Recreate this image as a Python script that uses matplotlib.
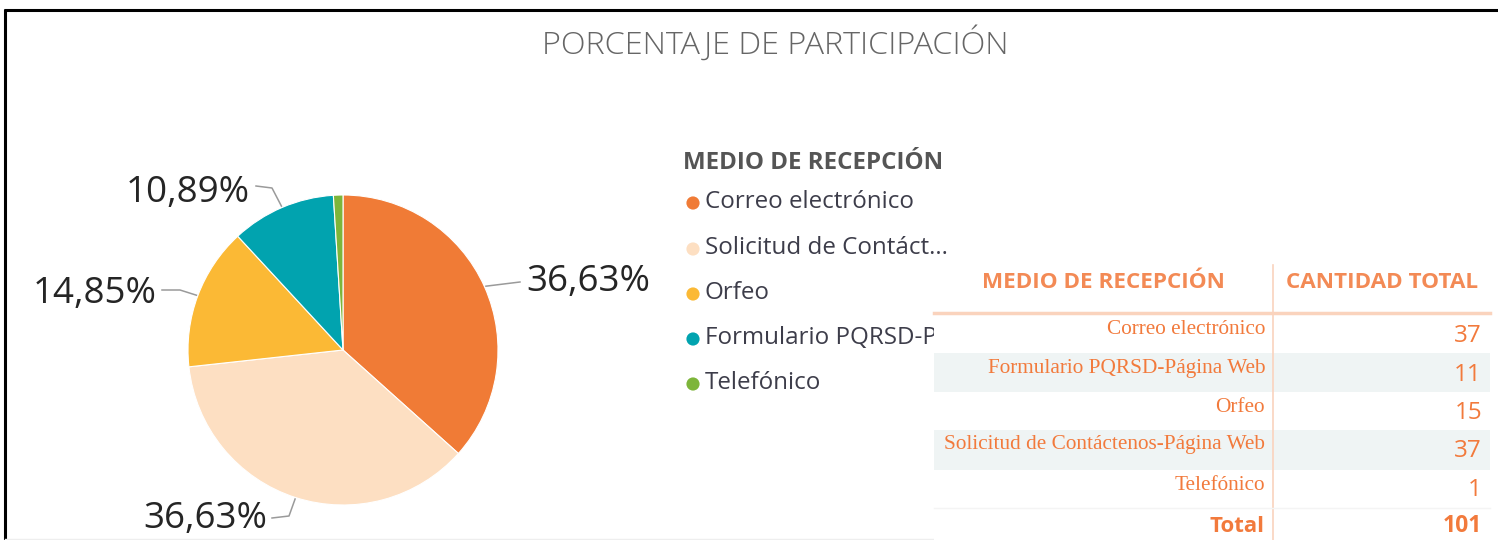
import numpy as np
import matplotlib
matplotlib.use("Agg")
import matplotlib.pyplot as plt
from matplotlib.patches import Rectangle

# ---- data ----
pie_categories = ["Correo electrónico", "Solicitud de Contáctenos-Página Web", "Orfeo",
                  "Formulario PQRSD-Página Web", "Telefónico"]
pie_values = [37, 37, 15, 11, 1]
legend_labels = ["Correo electrónico", "Solicitud de Contáct...", "Orfeo",
                 "Formulario PQRSD-Página Web", "Telefónico"]
table_categories = ["Correo electrónico", "Formulario PQRSD-Página Web", "Orfeo",
                    "Solicitud de Contáctenos-Página Web", "Telefónico"]
table_values = [37, 11, 15, 37, 1]
total_value = 101

colors = ["#F07B36", "#FDDFC2", "#FBB935", "#01A3AF", "#7DB53A"]
orange_txt = "#F27A3C"

W, H = 1498, 540
fig = plt.figure(figsize=(W / 100, H / 100), dpi=100)
fig.patch.set_facecolor("white")

# pie geometry (pixels)
cx, cy, R = 343, 350, 155
ax_pie = fig.add_axes([(cx - R) / W, (H - cy - R) / H, 2 * R / W, 2 * R / H])
wedges, _ = ax_pie.pie(pie_values, colors=colors, startangle=90, counterclock=False,
                       wedgeprops=dict(linewidth=0.8, edgecolor="white"))
ax_pie.set_xlim(-1, 1)
ax_pie.set_ylim(-1, 1)
ax_pie.set_aspect("auto")
ax_pie.axis("off")

ov = fig.add_axes([0, 0, 1, 1], facecolor="none")
ov.set_xlim(0, W)
ov.set_ylim(H, 0)
ov.axis("off")

# border
ov.plot([5, 5], [9, 540], color="black", lw=2.2, solid_capstyle="butt")
ov.plot([4, W], [9.5, 9.5], color="black", lw=2.2, solid_capstyle="butt")
ov.plot([5, W], [538.5, 538.5], color="#eeeeee", lw=1)

# title
ov.text(775, 44, "PORCENTAJE DE PARTICIPACIÓN", ha="center", va="center",
        fontsize=23.3, color="#666666", family="Open Sans", fontweight="light")

# percentage labels with leader lines
total = sum(pie_values)
pct = [v / total * 100 for v in pie_values]
label_specs = {
    0: dict(txt=(526, 282), ha="left", path=[None, (520, 282)]),
    1: dict(txt=(267, 519), ha="right", path=[None, (289, 516), (272, 518)]),
    2: dict(txt=(157, 294), ha="right", path=[None, (180, 290), (162, 290)]),
    3: dict(txt=(250, 193), ha="right", path=[None, (272, 188), (256, 186)]),
}
for i, spec in label_specs.items():
    w = wedges[i]
    mid = np.deg2rad((w.theta1 + w.theta2) / 2)
    ex = cx + R * 1.01 * np.cos(mid)
    ey = cy - R * 1.01 * np.sin(mid)
    pts = [(ex, ey)] + spec["path"][1:]
    xs, ys = zip(*pts)
    ov.plot(xs, ys, color="#9a9a9a", lw=1.1)
    label = f"{pct[i]:.2f}%".replace(".", ",")
    ov.text(spec["txt"][0], spec["txt"][1], label, ha=spec["ha"], va="center",
            fontsize=26.5, color="#252525", family="Open Sans")

# legend
ov.text(683, 163, "MEDIO DE RECEPCIÓN", ha="left", va="center", fontsize=17.4,
        fontweight="bold", color="#555555", family="Open Sans")
leg_y = [202, 248, 293, 338, 383]
for lab, c, y in zip(legend_labels, colors, leg_y):
    ov.scatter([693], [y + 1], s=90, color=c, edgecolors="none")
    ov.text(705, y, lab, ha="left", va="center", fontsize=17.4, color="#3d3d4a",
            family="Open Sans")

# table background (covers clipped legend text)
ov.add_patch(Rectangle((934, 262), W - 934, 280, facecolor="white", edgecolor="none", zorder=3))
row_top = [314, 353, 392, 430, 470]
row_h = [39, 39, 38, 40, 37]
for k, (t, h) in enumerate(zip(row_top, row_h)):
    if k % 2 == 1:
        ov.add_patch(Rectangle((934, t), 1490 - 934, h, facecolor="#EFF4F4",
                               edgecolor="none", zorder=3.1))
# lines
ov.plot([934, 1490], [313, 313], color="#FAD3BD", lw=2.5, zorder=4)
ov.plot([1272.5, 1272.5], [265, 540], color="#FAD3BD", lw=1.2, zorder=4)
ov.plot([934, 1490], [507.5, 507.5], color="#F4F4F4", lw=1, zorder=4)

ov.text(1103, 283, "MEDIO DE RECEPCIÓN", ha="center", va="center", fontsize=16.2,
        fontweight="bold", color="#F38A55", family="Open Sans", zorder=5)
ov.text(1382, 283, "CANTIDAD TOTAL", ha="center", va="center", fontsize=16.2,
        fontweight="bold", color="#F38A55", family="Open Sans", zorder=5)

row_text_y = [330, 368, 407, 444, 485]
row_num_y = [336, 375, 413, 451, 490]
for cat, val, ty, ny in zip(table_categories, table_values, row_text_y, row_num_y):
    ov.text(1265, ty, cat, ha="right", va="center", fontsize=15.3, color=orange_txt,
            family="Liberation Serif", zorder=5)
    ov.text(1482, ny, str(val), ha="right", va="center", fontsize=17.5, color=orange_txt,
            family="Open Sans", zorder=5)
ov.text(1265, 526, "Total", ha="right", va="center", fontsize=16, fontweight="bold",
        color=orange_txt, family="Open Sans", zorder=5)
ov.text(1482, 526, str(total_value), ha="right", va="center", fontsize=16.5, fontweight="bold",
        color=orange_txt, family="Open Sans", zorder=5)

fig.savefig("out.png", dpi=100, facecolor="white")
